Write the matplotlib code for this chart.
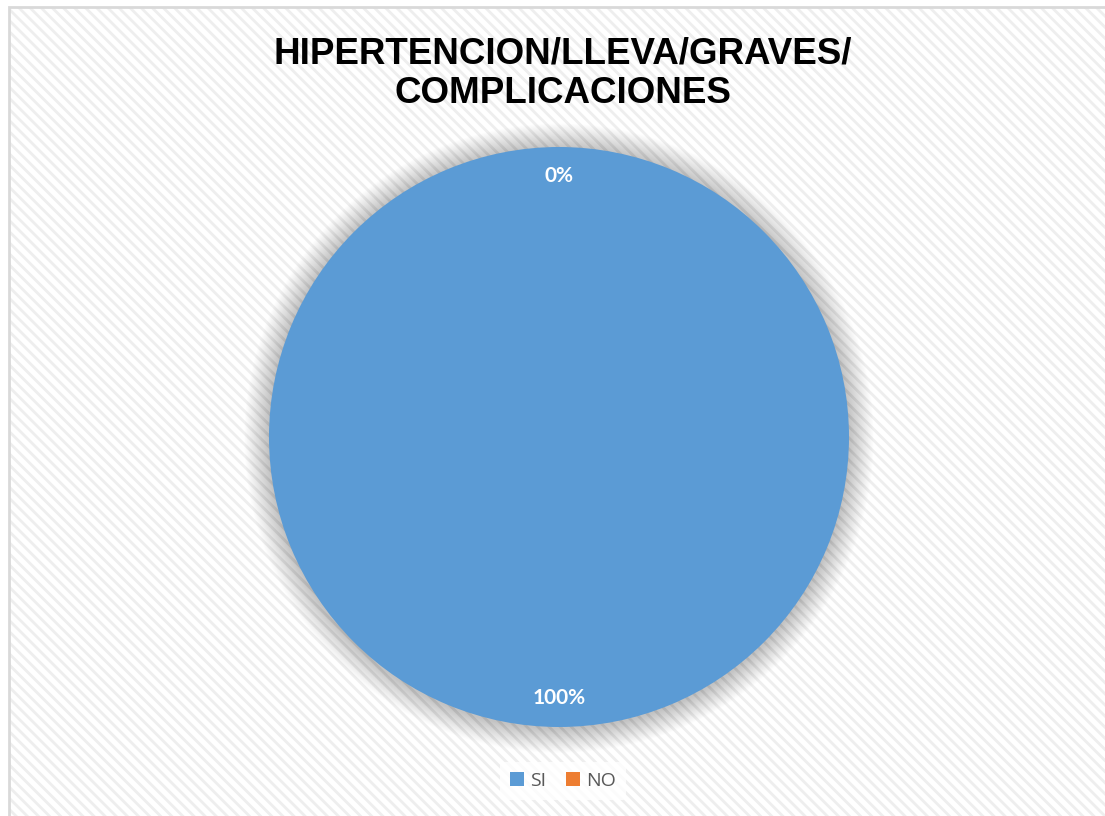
import matplotlib
matplotlib.use("Agg")
import matplotlib.pyplot as plt
from matplotlib.patches import Rectangle, Circle, Patch

categories = ["SI", "NO"]
values = [100, 0]
colors = ["#5b9bd5", "#ed7d31"]
title = "HIPERTENCION/LLEVA/GRAVES/\nCOMPLICACIONES"

W, H = 1105, 816
fig = plt.figure(figsize=(W / 100, H / 100), dpi=100)
fig.patch.set_facecolor("white")

# hatched chart background with border
plt.rcParams["hatch.linewidth"] = 2.0
bg = Rectangle((9 / W, 0), 1, 1 - 7 / H, transform=fig.transFigure,
               facecolor="white", edgecolor="#eeeeee", hatch="\\\\\\", lw=0, zorder=-2)
fig.patches.append(bg)
border = Rectangle((9 / W, -0.01), 1.0, 1 - 7 / H + 0.01, transform=fig.transFigure,
                   facecolor="none", edgecolor="#d9d9d9", lw=2, zorder=-1)
fig.patches.append(border)

cx, cy, R = 559, 437, 290
half = R * 1.2
ax = fig.add_axes([(cx - half) / W, (H - cy - half) / H, 2 * half / W, 2 * half / H])
ax.set_zorder(2)
ax.patch.set_alpha(0)
ax.set_xlim(-1.2, 1.2)
ax.set_ylim(-1.2, 1.2)
ax.set_aspect("equal")
ax.axis("off")

# soft diffuse shadow
n = 30
for i in range(n):
    r = 1.0 + 0.085 * (1 - i / n)
    ax.add_patch(Circle((0.0, -0.004), r, facecolor="#000000", alpha=0.0075,
                        edgecolor="none", zorder=1))

wedges, texts, autotexts = ax.pie(
    values, colors=colors, startangle=90, counterclock=False,
    autopct="%1.0f%%", pctdistance=0.9, radius=1.0,
    wedgeprops=dict(edgecolor="none", zorder=2),
    textprops=dict(color="white", fontsize=15, fontweight="bold", family=["Lato", "DejaVu Sans"]))
for t in autotexts:
    t.set_zorder(5)
ax.set_xlim(-1.2, 1.2)
ax.set_ylim(-1.2, 1.2)

fig.text(563 / W, 1 - 74 / H, title, ha="center", va="center", fontsize=26.5,
         fontweight="bold", family=["Liberation Sans", "DejaVu Sans"], linespacing=1.15)

handles = [Patch(facecolor=c, edgecolor="none") for c in colors]
leg = fig.legend(handles, categories, loc="center", bbox_to_anchor=(563 / W, 1 - 781 / H),
                 ncol=2, frameon=True, handlelength=0.75, handleheight=0.75,
                 handletextpad=0.3, columnspacing=1.0, borderpad=0.5,
                 prop=dict(family=["Open Sans", "DejaVu Sans"], size=14))
leg.get_frame().set_facecolor("white")
leg.get_frame().set_alpha(0.8)
leg.get_frame().set_edgecolor("none")
for t in leg.get_texts():
    t.set_color("#595959")

fig.savefig("out.png", dpi=100)
